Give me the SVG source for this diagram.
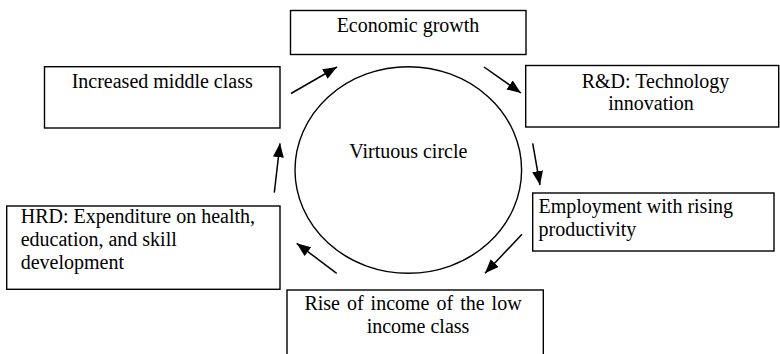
<svg xmlns="http://www.w3.org/2000/svg" width="780" height="354" viewBox="0 0 780 354">
  <style>
    .box { fill: #ffffff; stroke: #000000; stroke-width: 1.4; }
    .lbl { font-family: 'Liberation Serif', 'DejaVu Serif', 'Times New Roman', serif; font-size: 20px; fill: #000000; }
    .mid { text-anchor: middle; }
    .edge { stroke: #000000; stroke-width: 1.5; fill: none; marker-end: url(#head); }
  </style>
  <defs>
    <marker id="head" viewBox="0 0 14 11" refX="14" refY="5.5" markerWidth="14" markerHeight="11" markerUnits="userSpaceOnUse" orient="auto">
      <path d="M0,0 L14,5.5 L0,11 Z" fill="#000000"/>
    </marker>
  </defs>

  <rect width="780" height="354" fill="#ffffff"/>

  <g font-family="Liberation Serif, DejaVu Serif, serif">
  <!-- central loop -->
  <g id="circle">
    <ellipse cx="408.3" cy="170" rx="113.3" ry="103.3" fill="none" stroke="#000000" stroke-width="1.4"/>
    <text class="lbl mid" x="408.3" y="158.3">Virtuous circle</text>
  </g>

  <g id="economic-growth">
    <rect class="box" x="290.5" y="10.5" width="235.5" height="44"/>
    <text class="lbl mid" x="408" y="31.5">Economic growth</text>
  </g>

  <g id="rd-technology">
    <rect class="box" x="525.7" y="65.5" width="253" height="61.5"/>
    <text class="lbl mid" x="655.5" y="88.3">R&amp;D: Technology</text>
    <text class="lbl mid" x="651" y="110">innovation</text>
  </g>

  <g id="employment">
    <rect class="box" x="532.7" y="193" width="241.3" height="58"/>
    <text class="lbl" x="538.5" y="213">Employment with rising</text>
    <text class="lbl" x="538.5" y="236">productivity</text>
  </g>

  <g id="income-rise">
    <rect class="box" x="287" y="290" width="256.3" height="70"/>
    <text class="lbl mid" x="413" y="310" word-spacing="2">Rise of income of the low</text>
    <text class="lbl mid" x="418" y="333">income class</text>
  </g>

  <g id="hrd">
    <rect class="box" x="6.7" y="206" width="273.3" height="83.3"/>
    <text class="lbl" x="20.7" y="223">HRD: Expenditure on health,</text>
    <text class="lbl" x="20.7" y="246">education, and skill</text>
    <text class="lbl" x="20.7" y="269">development</text>
  </g>

  <g id="middle-class">
    <rect class="box" x="44.5" y="66.7" width="235.5" height="61.3"/>
    <text class="lbl mid" x="162.2" y="88.3">Increased middle class</text>
  </g>
  </g>

  <!-- cycle connectors, clockwise -->
  <g id="connectors">
    <line class="edge" x1="291" y1="93.5" x2="337" y2="67"/>
    <line class="edge" x1="484" y1="67" x2="521" y2="93"/>
    <line class="edge" x1="532.7" y1="143.3" x2="540" y2="185"/>
    <line class="edge" x1="522" y1="234.3" x2="485" y2="273.3"/>
    <line class="edge" x1="336.7" y1="273.3" x2="296.7" y2="243.3"/>
    <line class="edge" x1="274.3" y1="192.7" x2="280" y2="143.3"/>
  </g>
</svg>
